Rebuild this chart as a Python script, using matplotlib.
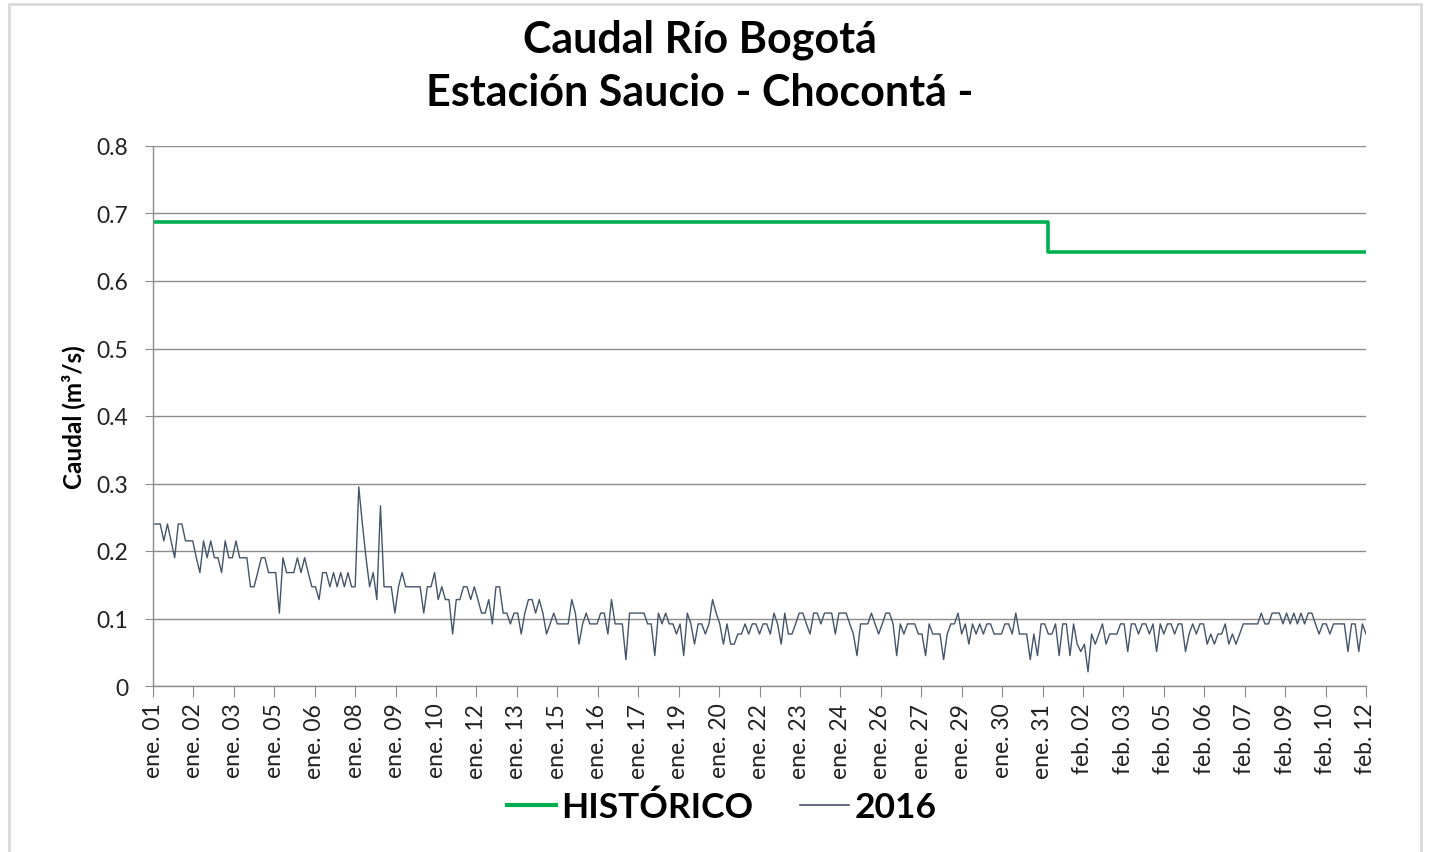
import numpy as np
import pandas as pd
import matplotlib
matplotlib.use("Agg")
import matplotlib.pyplot as plt
from matplotlib.patches import Rectangle
from matplotlib.lines import Line2D

plt.rcParams['font.family'] = ['Lato', 'DejaVu Sans']

# caudal 2016 cada 3 horas (8 lecturas por día), 01 ene - 12 feb
caudal_2016 = [
    0.24, 0.24, 0.24, 0.215, 0.24, 0.215, 0.19, 0.24,            # ene 01
    0.24, 0.215, 0.215, 0.215, 0.19, 0.168, 0.215, 0.19,         # ene 02
    0.215, 0.19, 0.19, 0.168, 0.215, 0.19, 0.19, 0.215,          # ene 03
    0.19, 0.19, 0.19, 0.147, 0.147, 0.168, 0.19, 0.19,           # ene 04
    0.168, 0.168, 0.168, 0.108, 0.19, 0.168, 0.168, 0.168,       # ene 05
    0.19, 0.168, 0.19, 0.168, 0.147, 0.147, 0.128, 0.168,        # ene 06
    0.168, 0.147, 0.168, 0.147, 0.168, 0.147, 0.168, 0.147,      # ene 07
    0.147, 0.295, 0.24, 0.19, 0.147, 0.168, 0.128, 0.267,        # ene 08
    0.147, 0.147, 0.147, 0.108, 0.147, 0.168, 0.147, 0.147,      # ene 09
    0.147, 0.147, 0.147, 0.108, 0.147, 0.147, 0.168, 0.128,      # ene 10
    0.147, 0.128, 0.128, 0.077, 0.128, 0.128, 0.147, 0.147,      # ene 11
    0.128, 0.147, 0.128, 0.108, 0.108, 0.128, 0.092, 0.147,      # ene 12
    0.147, 0.108, 0.108, 0.092, 0.108, 0.108, 0.077, 0.108,      # ene 13
    0.128, 0.128, 0.108, 0.128, 0.108, 0.077, 0.092, 0.108,      # ene 14
    0.092, 0.092, 0.092, 0.092, 0.128, 0.108, 0.062, 0.092,      # ene 15
    0.108, 0.092, 0.092, 0.092, 0.108, 0.108, 0.077, 0.128,      # ene 16
    0.092, 0.092, 0.092, 0.039, 0.108, 0.108, 0.108, 0.108,      # ene 17
    0.108, 0.092, 0.092, 0.045, 0.108, 0.092, 0.108, 0.092,      # ene 18
    0.092, 0.077, 0.092, 0.045, 0.108, 0.092, 0.062, 0.092,      # ene 19
    0.092, 0.077, 0.092, 0.128, 0.108, 0.092, 0.062, 0.092,      # ene 20
    0.062, 0.062, 0.077, 0.077, 0.092, 0.077, 0.092, 0.092,      # ene 21
    0.077, 0.092, 0.092, 0.077, 0.108, 0.092, 0.062, 0.108,      # ene 22
    0.077, 0.077, 0.092, 0.108, 0.108, 0.092, 0.077, 0.108,      # ene 23
    0.108, 0.092, 0.108, 0.108, 0.108, 0.077, 0.108, 0.108,      # ene 24
    0.108, 0.092, 0.077, 0.045, 0.092, 0.092, 0.092, 0.108,      # ene 25
    0.092, 0.077, 0.092, 0.108, 0.108, 0.092, 0.045, 0.092,      # ene 26
    0.077, 0.092, 0.092, 0.092, 0.077, 0.077, 0.045, 0.092,      # ene 27
    0.077, 0.077, 0.077, 0.039, 0.077, 0.092, 0.092, 0.108,      # ene 28
    0.077, 0.092, 0.062, 0.092, 0.077, 0.092, 0.077, 0.092,      # ene 29
    0.092, 0.077, 0.077, 0.077, 0.092, 0.092, 0.077, 0.108,      # ene 30
    0.077, 0.077, 0.077, 0.039, 0.077, 0.045, 0.092, 0.092,      # ene 31
    0.077, 0.077, 0.092, 0.045, 0.092, 0.092, 0.045, 0.092,      # feb 01
    0.062, 0.051, 0.062, 0.021, 0.077, 0.062, 0.077, 0.092,      # feb 02
    0.062, 0.077, 0.077, 0.077, 0.092, 0.092, 0.051, 0.092,      # feb 03
    0.092, 0.077, 0.092, 0.092, 0.077, 0.092, 0.051, 0.092,      # feb 04
    0.077, 0.092, 0.092, 0.077, 0.092, 0.092, 0.051, 0.077,      # feb 05
    0.092, 0.077, 0.092, 0.092, 0.062, 0.077, 0.062, 0.077,      # feb 06
    0.077, 0.092, 0.062, 0.077, 0.062, 0.077, 0.092, 0.092,      # feb 07
    0.092, 0.092, 0.092, 0.108, 0.092, 0.092, 0.108, 0.108,      # feb 08
    0.108, 0.092, 0.108, 0.092, 0.108, 0.092, 0.108, 0.092,      # feb 09
    0.108, 0.108, 0.092, 0.077, 0.092, 0.092, 0.077, 0.092,      # feb 10
    0.092, 0.092, 0.092, 0.051, 0.092, 0.092, 0.051, 0.092,      # feb 11
    0.077,                                                        # feb 12
]

# caudal medio histórico por mes
hist_ene = 0.688
hist_feb = 0.643

x_labels = ['ene. 01', 'ene. 02', 'ene. 03', 'ene. 05', 'ene. 06', 'ene. 08',
            'ene. 09', 'ene. 10', 'ene. 12', 'ene. 13', 'ene. 15', 'ene. 16',
            'ene. 17', 'ene. 19', 'ene. 20', 'ene. 22', 'ene. 23', 'ene. 24',
            'ene. 26', 'ene. 27', 'ene. 29', 'ene. 30', 'ene. 31', 'feb. 02',
            'feb. 03', 'feb. 05', 'feb. 06', 'feb. 07', 'feb. 09', 'feb. 10',
            'feb. 12']

fechas = pd.date_range('2016-01-01', periods=len(caudal_2016), freq='3h')
historico = np.where(fechas.month == 1, hist_ene, hist_feb)
idx = np.arange(len(caudal_2016))

fig = plt.figure(figsize=(14.29, 8.53), dpi=100)
ax = fig.add_axes([153 / 1429, 1 - 687 / 853, (1366 - 153) / 1429, (687 - 147) / 853])

# borde exterior del gráfico
fig.patches.append(Rectangle((9 / 1429, -0.02), (1421 - 9) / 1429, 1.02 - 5 / 853,
                             transform=fig.transFigure, fill=False,
                             edgecolor='#d9d9d9', linewidth=2))

ax.plot(idx, historico, color='#00b050', lw=2.6, drawstyle='steps-post')
ax.plot(idx, caudal_2016, color='#44546a', lw=1.0)

ax.set_xlim(0, len(caudal_2016) - 1)
ax.set_ylim(0, 0.8)
ax.set_yticks(np.arange(0, 0.81, 0.1))
ax.set_yticklabels(['0', '0.1', '0.2', '0.3', '0.4', '0.5', '0.6', '0.7', '0.8'])
ax.set_xticks(np.linspace(0, len(caudal_2016) - 1, len(x_labels)))
ax.set_xticklabels(x_labels, rotation=90)

ax.grid(axis='y', color='#8c8c8c', lw=1)
ax.set_axisbelow(True)
for s in ['top', 'right']:
    ax.spines[s].set_visible(False)
for s in ['left', 'bottom']:
    ax.spines[s].set_color('#8c8c8c')
    ax.spines[s].set_linewidth(1)
ax.tick_params(axis='x', length=8, color='#8c8c8c', labelsize=16.5, labelcolor='#222222', pad=4)
ax.tick_params(axis='y', length=6, color='#8c8c8c', labelsize=16.5, labelcolor='#222222', pad=12)

ax.set_ylabel('Caudal (m³/s)', fontsize=17.5, fontweight='bold', labelpad=8)

fig.text(0.49, 1 - 40 / 853, 'Caudal Río Bogotá', ha='center', va='center',
         fontsize=31, fontweight='bold')
fig.text(0.49, 1 - 93 / 853, 'Estación Saucio - Chocontá -', ha='center', va='center',
         fontsize=31, fontweight='bold')

handles = [Line2D([], [], color='#00b050', lw=3), Line2D([], [], color='#44546a', lw=1.2)]
fig.legend(handles, ['HISTÓRICO', '2016'], loc='center', bbox_to_anchor=(0.505, 1 - 808 / 853),
           ncol=2, frameon=False, prop={'weight': 'bold', 'size': 25.5},
           handlelength=1.4, handletextpad=0.15, columnspacing=1.3)

fig.savefig('out.png', dpi=100)
